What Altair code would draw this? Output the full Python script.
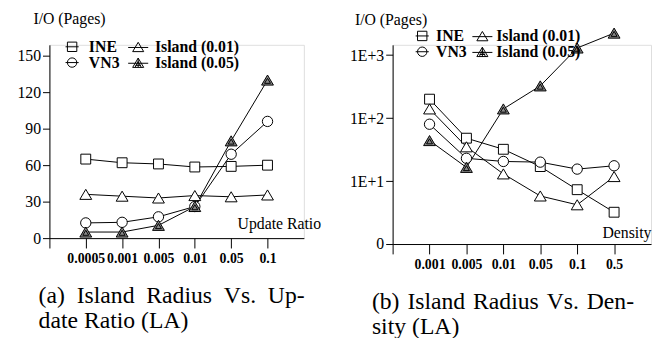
import altair as alt
import pandas as pd

# ---------------- data ----------------
series = ["INE", "VN3", "Island (0.01)", "Island (0.05)"]

left_labels = ["0.0005", "0.001", "0.005", "0.01", "0.05", "0.1"]
left_ine = [65, 62, 61, 58.5, 59, 60]
left_vn3 = [12.5, 13, 17.5, 26, 69, 96]
left_i01 = [36, 34.5, 33, 35, 34, 35.5]
left_i05 = [5, 5, 10.5, 26, 80, 130]

right_labels = ["0.001", "0.005", "0.01", "0.05", "0.1", "0.5"]
right_ine = [200, 48, 32, 17, 7.3, 3.2]
right_vn3 = [80, 23, 20.5, 20, 15.5, 17.5]
right_i01 = [140, 35, 13, 5.8, 4.2, 11.8]
right_i05 = [44, 16.5, 140, 325, 1300, 2240]

y_title = "I/O (Pages)"
left_caption = ["(a)\u00a0\u00a0Island\u00a0\u00a0Radius\u00a0\u00a0Vs.\u00a0\u00a0Up-", "date Ratio (LA)"]
right_caption = ["(b)\u00a0\u200aIsland\u00a0\u200aRadius\u00a0\u200aVs.\u00a0\u200aDen-", "sity (LA)"]


def frame(labels, ine, vn3, i01, i05):
    rows = []
    for name, vals in zip(series, [ine, vn3, i01, i05]):
        for i, (lab, v) in enumerate(zip(labels, vals)):
            rows.append({"xi": i + 1, "label": lab, "series": name, "value": v})
    return pd.DataFrame(rows)


left_df = frame(left_labels, left_ine, left_vn3, left_i01, left_i05)
right_df = frame(right_labels, right_ine, right_vn3, right_i01, right_i05)

FONT = "Liberation Serif"

# plotted marker shapes
SQ = "M-1,-1H1V1H-1Z"
CI = "M-1,0A1,1,0,1,0,1,0A1,1,0,1,0,-1,0Z"
TR = "M0,-0.85L1,0.85L-1,0.85Z"
TRH = "M0,-0.85L1,0.85L-1,0.85Z M0,-0.3L0.5,0.55L-0.5,0.55Z"
marker = {
    "INE": (SQ, 100, "white"),
    "VN3": (CI, 110, "white"),
    "Island (0.01)": (TR, 144, "white"),
    "Island (0.05)": (TRH, 144, "#8a8a8a"),
}
# legend symbols (with a line through them)
LSQ = "M-0.95,0H0.95M-0.68,-0.68H0.68V0.68H-0.68Z"
LCI = "M-0.95,0H0.95M-0.68,0A0.68,0.68,0,1,0,0.68,0A0.68,0.68,0,1,0,-0.68,0Z"
LTR = "M-1.45,0.1H1.45M0,-0.65L0.8,0.7L-0.8,0.7Z"
LTRH = ("M-1.45,0.1H1.45M0,-0.65L0.8,0.7L-0.8,0.7Z"
        "M0,-0.65L0,0.7M-0.4,0.4L0.4,0.4M0,-0.15L0.45,0.7M0,-0.15L-0.45,0.7")
leg_shapes = [LSQ, LCI, LTR, LTRH]


def panel(df, labels, ydomain, yscale_type, yvals, ylabel_expr, width, height,
          xtitle, xtitle_x, xtitle_y, ytitle_x, ytitle_y,
          legx, legy, lab_off, col_pad, row_pad, caption, cap_dx):
    label_expr = "[''," + ",".join("'%s'" % l for l in labels) + "][datum.value]"
    x = alt.X("xi:Q", scale=alt.Scale(domain=[0, 7], nice=False, zero=False),
              axis=alt.Axis(values=[0, 1, 2, 3, 4, 5, 6], labelExpr=label_expr,
                            grid=False, tickSize=10, labelPadding=4,
                            labelFont=FONT, labelFontSize=14, labelFontWeight="bold",
                            labelColor="black", tickColor="black", domainColor="black",
                            title=xtitle, titleFont=FONT, titleFontSize=16,
                            titleFontWeight="normal", titleColor="black",
                            titleX=xtitle_x, titleY=xtitle_y, titleAlign="right",
                            titleBaseline="middle", titleAngle=0))
    y = alt.Y("value:Q",
              scale=alt.Scale(type=yscale_type, domain=ydomain, nice=False, zero=False),
              axis=alt.Axis(values=yvals, labelExpr=ylabel_expr, grid=False,
                            tickSize=7, labelPadding=2, labelFont=FONT,
                            labelFontSize=16, labelColor="black", tickColor="black",
                            domainColor="black", title=None))
    base = alt.Chart(df)
    lines = base.mark_line(color="black", strokeWidth=1).encode(
        x=x, y=y, detail="series:N", order="xi:Q")
    layers = [lines]
    for s in series:
        path, size, fill = marker[s]
        layers.append(
            base.transform_filter(alt.datum.series == s).mark_point(
                shape=path, size=size, filled=True, fill=fill, stroke="black",
                strokeWidth=1, opacity=1).encode(x=x, y=y))
    legend_layer = base.transform_filter("false").mark_point(
        filled=False, color="black", strokeWidth=1, size=196, opacity=1).encode(
        x=x, y=y,
        shape=alt.Shape("series:N", scale=alt.Scale(domain=series, range=leg_shapes),
                        legend=alt.Legend(title=None, orient="none", legendX=legx,
                                          legendY=legy, columns=2, padding=0,
                                          columnPadding=col_pad, rowPadding=row_pad,
                                          symbolSize=196, symbolStrokeColor="black",
                                          symbolStrokeWidth=1, labelOffset=lab_off,
                                          labelFont=FONT, labelFontSize=16,
                                          labelFontWeight="bold", labelColor="black",
                                          symbolOffset=0)))
    layers.append(legend_layer)
    ytext = alt.Chart(pd.DataFrame({"t": [y_title]})).mark_text(
        align="right", baseline="middle", font=FONT, fontSize=16, color="black").encode(
        text="t:N", x=alt.value(ytitle_x), y=alt.value(ytitle_y))
    layers.append(ytext)
    return alt.layer(*layers).properties(
        width=width, height=height,
        title=alt.TitleParams(text=caption, orient="bottom", anchor="start",
                              frame="group", font=FONT, fontSize=24,
                              fontWeight="normal", color="black", lineHeight=25,
                              offset=19, dx=cap_dx))


left = panel(left_df, left_labels, [0, 159], "linear", [0, 30, 60, 90, 120, 150],
             "datum.value", 258, 196, "Update Ratio", 275, -15, 57, -26,
             15, -6, 9, 5, -2.5, left_caption, -11)
right = panel(right_df, right_labels, [1, 1460], "log", [1, 10, 100, 1000],
              "datum.value < 5 ? '0' : '1E+' + round(log(datum.value)/LN10)",
              262, 202, "Density", 262, -12, 35, -25,
              22, -17, 6, 2, -4, right_caption, -21)

chart = alt.hconcat(left, right, spacing=90, bounds="flush").resolve_scale(
    shape="independent").resolve_legend(shape="independent").properties(
    padding={"left": 8, "top": 0, "right": 0, "bottom": 0}).configure_view(
    stroke=None).configure(background="white")

chart.save("out.html", embed_options={"renderer": "svg", "actions": False})
